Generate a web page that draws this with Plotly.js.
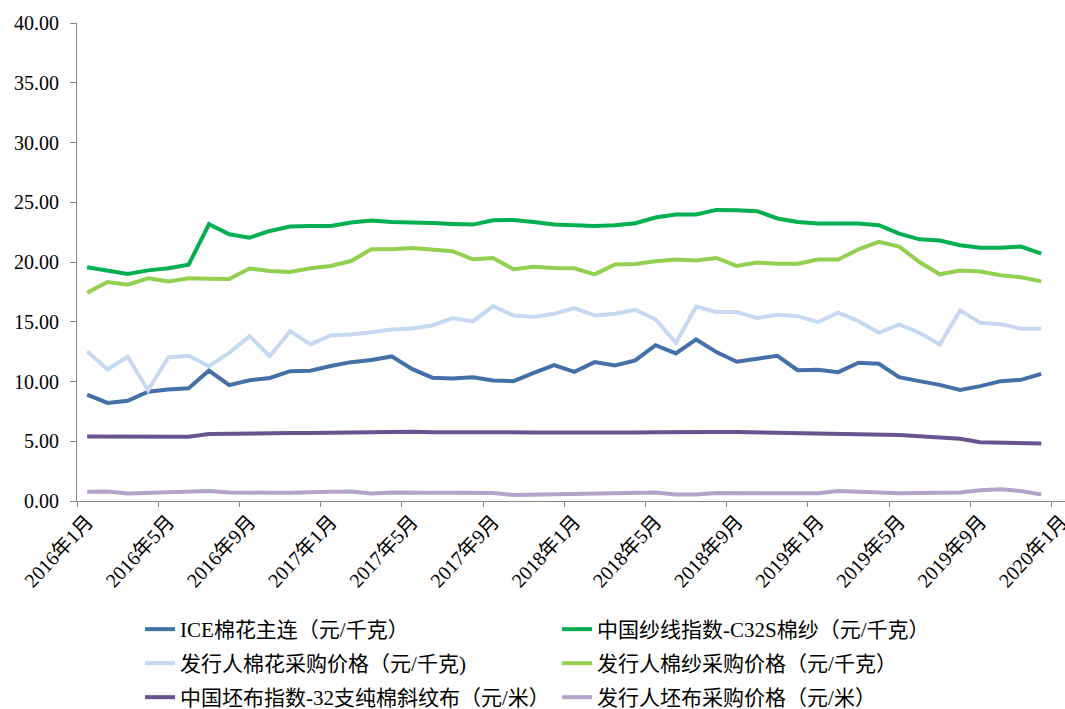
<!DOCTYPE html>
<html>
<head>
<meta charset="utf-8">
<script src="https://cdn.plot.ly/plotly-3.0.1.min.js"></script>
<style>html,body{margin:0;padding:0;background:#fff;}#chart{width:1065px;height:709px;}</style>
</head>
<body>
<div id="chart"></div>
<script>
const months = [
  "2016年1月","2016年2月","2016年3月","2016年4月","2016年5月","2016年6月","2016年7月","2016年8月","2016年9月","2016年10月","2016年11月","2016年12月",
  "2017年1月","2017年2月","2017年3月","2017年4月","2017年5月","2017年6月","2017年7月","2017年8月","2017年9月","2017年10月","2017年11月","2017年12月",
  "2018年1月","2018年2月","2018年3月","2018年4月","2018年5月","2018年6月","2018年7月","2018年8月","2018年9月","2018年10月","2018年11月","2018年12月",
  "2019年1月","2019年2月","2019年3月","2019年4月","2019年5月","2019年6月","2019年7月","2019年8月","2019年9月","2019年10月","2019年11月","2019年12月",
  "2020年1月"
];

const iceCotton = [8.91,8.21,8.38,9.14,9.33,9.44,10.92,9.69,10.11,10.3,10.86,10.9,
  11.3,11.62,11.8,12.1,11.05,10.32,10.25,10.36,10.08,10.03,10.73,11.37,
  10.81,11.62,11.34,11.76,13.04,12.35,13.52,12.46,11.65,11.9,12.15,10.95,
  10.98,10.78,11.57,11.48,10.36,10.03,9.72,9.3,9.61,10.03,10.14,10.64];

const yarnIndex = [19.56,19.25,19.0,19.3,19.47,19.78,23.16,22.32,22.04,22.6,22.97,23.02,
  23.02,23.3,23.47,23.35,23.33,23.27,23.19,23.13,23.5,23.52,23.35,23.13,
  23.08,23.02,23.08,23.25,23.72,23.97,23.97,24.36,24.33,24.25,23.64,23.35,
  23.22,23.22,23.22,23.08,22.38,21.9,21.79,21.4,21.2,21.2,21.29,20.7];

const issuerCotton = [12.54,11.0,12.07,9.27,12.01,12.15,11.28,12.4,13.8,12.12,14.22,13.1,
  13.88,13.94,14.13,14.36,14.44,14.69,15.31,15.03,16.31,15.53,15.39,15.67,
  16.14,15.53,15.67,16.0,15.2,13.24,16.26,15.81,15.81,15.31,15.59,15.47,
  14.97,15.76,15.05,14.08,14.78,14.08,13.1,15.95,14.92,14.8,14.42,14.42];

const issuerYarn = [17.43,18.33,18.1,18.63,18.38,18.63,18.6,18.58,19.45,19.25,19.16,19.47,
  19.67,20.08,21.06,21.06,21.17,21.0,20.9,20.23,20.34,19.39,19.61,19.5,
  19.47,18.97,19.8,19.83,20.06,20.2,20.12,20.34,19.67,19.95,19.86,19.86,
  20.2,20.2,21.06,21.68,21.29,20.0,18.97,19.28,19.2,18.89,18.72,18.38];

const greyClothIndex = [5.4,5.38,5.37,5.37,5.37,5.38,5.6,5.6,5.6,5.65,5.68,5.69,
  5.72,5.78,5.8,5.8,5.8,5.76,5.74,5.74,5.78,5.76,5.74,5.74,
  5.72,5.72,5.72,5.73,5.75,5.78,5.78,5.78,5.78,5.75,5.72,5.68,
  5.65,5.64,5.64,5.6,5.52,5.42,5.35,5.2,4.92,4.9,4.88,4.82];

const issuerGreyCloth = [0.78,0.8,0.62,0.67,0.67,0.7,0.83,0.72,0.67,0.69,0.7,0.7,
  0.78,0.8,0.62,0.72,0.67,0.69,0.7,0.7,0.67,0.5,0.53,0.6,
  0.6,0.62,0.67,0.69,0.72,0.55,0.55,0.67,0.66,0.64,0.64,0.64,
  0.64,0.83,0.75,0.69,0.64,0.66,0.69,0.72,0.89,0.98,0.83,0.55];

const seriesNames = [
  "ICE棉花主连（元/千克）",
  "中国纱线指数-C32S棉纱（元/千克）",
  "发行人棉花采购价格（元/千克)",
  "发行人棉纱采购价格（元/千克）",
  "中国坯布指数-32支纯棉斜纹布（元/米）",
  "发行人坯布采购价格（元/米）"
];
const seriesData = [iceCotton, yarnIndex, issuerCotton, issuerYarn, greyClothIndex, issuerGreyCloth];
const seriesColors = ["#4470A8", "#00B050", "#C6D9F1", "#92D050", "#6A5190", "#B3A2C9"];
const legendRows = ["legend", "legend", "legend2", "legend2", "legend3", "legend3"];

const yTicks = [0,5,10,15,20,25,30,35,40];

const traces = seriesData.map((vals, k) => ({
  type: "scatter",
  mode: "lines",
  name: seriesNames[k],
  legend: legendRows[k],
  x: months,
  y: vals.concat([null]),
  line: {color: seriesColors[k], width: 4},
  connectgaps: false,
  hoverinfo: "x+y+name"
}));

const serif = "'Liberation Serif', 'Times New Roman', 'Noto Sans CJK SC', serif";

function legendRow(yContainer) {
  return {
    orientation: "h",
    xref: "container",
    yref: "container",
    x: 0.1315,
    xanchor: "left",
    y: yContainer,
    yanchor: "top",
    entrywidth: 372,
    entrywidthmode: "pixels",
    font: {family: serif, size: 21, color: "#000000"},
    bgcolor: "rgba(0,0,0,0)",
    traceorder: "normal"
  };
}

const layout = {
  width: 1065,
  height: 709,
  margin: {l: 77, r: 0, t: 23, b: 208},
  paper_bgcolor: "#ffffff",
  plot_bgcolor: "#ffffff",
  showlegend: true,
  font: {family: serif, color: "#000000", size: 20},
  xaxis: {
    type: "category",
    categoryorder: "array",
    categoryarray: months,
    range: [-0.5, 48.17],
    tickmode: "linear",
    tick0: 0,
    dtick: 4,
    tickson: "boundaries",
    ticks: "outside",
    ticklen: 5,
    tickcolor: "#868686",
    tickwidth: 1,
    tickangle: -47,
    tickfont: {family: serif, size: 20, color: "#000000"},
    automargin: false,
    showline: true,
    linecolor: "#868686",
    linewidth: 1,
    showgrid: false,
    zeroline: false,
    fixedrange: true
  },
  yaxis: {
    range: [0, 40],
    tickmode: "array",
    tickvals: yTicks,
    tickformat: ".2f",
    ticks: "outside",
    ticklen: 6,
    tickcolor: "#868686",
    tickwidth: 1,
    ticklabelstandoff: 7,
    tickfont: {family: serif, size: 20, color: "#000000"},
    automargin: false,
    showline: true,
    linecolor: "#868686",
    linewidth: 1,
    showgrid: false,
    zeroline: false,
    fixedrange: true
  },
  legend: legendRow(0.14104),
  legend2: legendRow(0.09309),
  legend3: legendRow(0.04513)
};

Plotly.newPlot("chart", traces, layout, {displayModeBar: false, staticPlot: true});
</script>
</body>
</html>
